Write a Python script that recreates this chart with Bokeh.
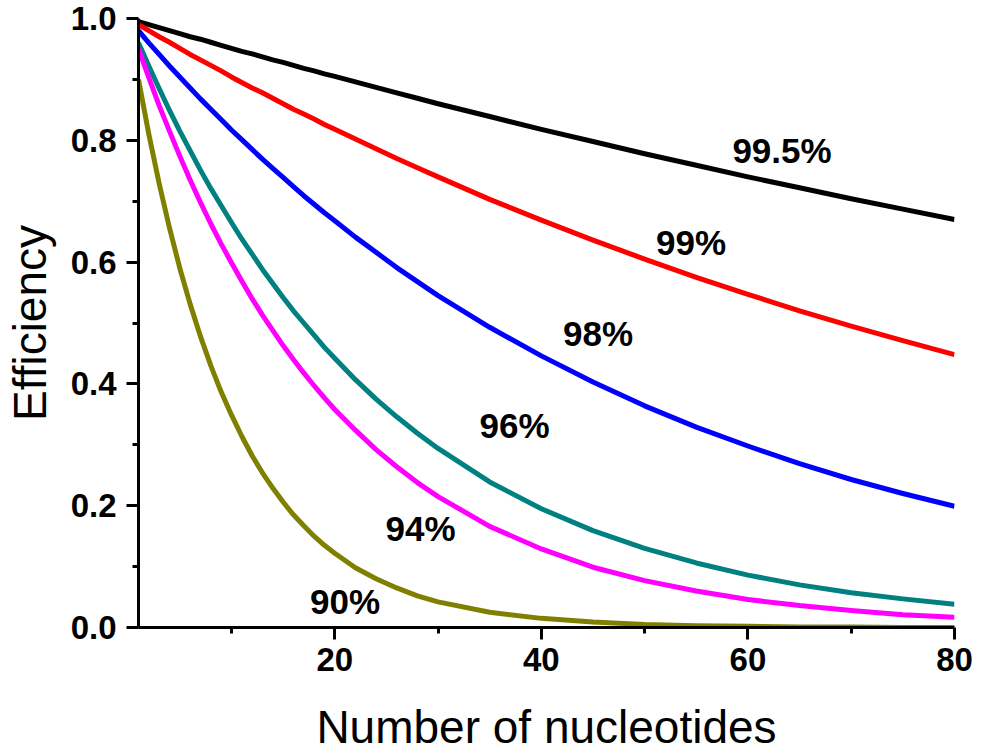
from bokeh.plotting import figure
from bokeh.models import FixedTicker, Range1d, ColumnDataSource
from bokeh.core.properties import value
from bokeh.embed import file_html
from bokeh.resources import INLINE

# ---- data ----
nucleotides = [1, 2, 3, 4, 5, 6, 7, 8, 9, 10, 11, 12, 13, 14, 15, 16, 17, 18, 19, 20,
               22, 24, 26, 28, 30, 35, 40, 45, 50, 55, 60, 65, 70, 75, 80]

eff_995 = [0.995, 0.990, 0.985, 0.980, 0.975, 0.970, 0.966, 0.961, 0.956, 0.951,
           0.946, 0.942, 0.937, 0.932, 0.928, 0.923, 0.918, 0.914, 0.909, 0.905,
           0.896, 0.887, 0.878, 0.869, 0.860, 0.839, 0.818, 0.798, 0.778, 0.759,
           0.740, 0.722, 0.704, 0.687, 0.670]
eff_99 = [0.990, 0.980, 0.970, 0.961, 0.951, 0.941, 0.932, 0.923, 0.914, 0.904,
          0.895, 0.886, 0.878, 0.869, 0.860, 0.851, 0.843, 0.835, 0.826, 0.818,
          0.802, 0.786, 0.770, 0.755, 0.740, 0.703, 0.669, 0.636, 0.605, 0.575,
          0.547, 0.520, 0.495, 0.471, 0.448]
eff_98 = [0.980, 0.960, 0.941, 0.922, 0.904, 0.886, 0.868, 0.851, 0.834, 0.817,
          0.801, 0.785, 0.769, 0.754, 0.739, 0.724, 0.709, 0.695, 0.681, 0.668,
          0.641, 0.616, 0.591, 0.568, 0.545, 0.493, 0.446, 0.403, 0.364, 0.329,
          0.298, 0.269, 0.243, 0.220, 0.199]
eff_96 = [0.960, 0.922, 0.885, 0.849, 0.815, 0.783, 0.751, 0.721, 0.693, 0.665,
          0.638, 0.613, 0.588, 0.565, 0.542, 0.520, 0.500, 0.480, 0.460, 0.442,
          0.407, 0.375, 0.346, 0.319, 0.294, 0.239, 0.195, 0.159, 0.130, 0.106,
          0.086, 0.070, 0.057, 0.047, 0.038]
eff_94 = [0.950, 0.903, 0.857, 0.815, 0.774, 0.735, 0.698, 0.663, 0.630, 0.599,
          0.569, 0.540, 0.513, 0.488, 0.463, 0.440, 0.418, 0.397, 0.377, 0.358,
          0.324, 0.292, 0.264, 0.238, 0.215, 0.166, 0.129, 0.099, 0.077, 0.060,
          0.046, 0.036, 0.028, 0.021, 0.017]
eff_90 = [0.900, 0.810, 0.729, 0.656, 0.590, 0.531, 0.478, 0.430, 0.387, 0.349,
          0.314, 0.282, 0.254, 0.229, 0.206, 0.185, 0.167, 0.150, 0.135, 0.122,
          0.098, 0.080, 0.065, 0.052, 0.042, 0.025, 0.015, 0.009, 0.005, 0.003,
          0.002, 0.001, 0.001, 0.000, 0.000]

series_labels = ["99.5%", "99%", "98%", "96%", "94%", "90%"]
label_x = [63.3, 54.5, 45.5, 37.4, 28.3, 21.0]
label_y = [0.783, 0.632, 0.483, 0.332, 0.163, 0.043]

x_ticks = [20, 40, 60, 80]
x_minor = [10, 30, 50, 70]
y_ticks = [0.0, 0.2, 0.4, 0.6, 0.8, 1.0]
y_minor = [0.1, 0.3, 0.5, 0.7, 0.9]
y_tick_labels = ["0.0", "0.2", "0.4", "0.6", "0.8", "1.0"]

colors = ["#000000", "#FF0000", "#0000FF", "#008080", "#FF00FF", "#808000"]
all_series = [eff_995, eff_99, eff_98, eff_96, eff_94, eff_90]

FONT = "Liberation Sans"

p = figure(width=981, height=755, output_backend="svg", toolbar_location=None,
           x_range=Range1d(1, 80), y_range=Range1d(0, 1.0),
           min_border_left=135, min_border_right=27, min_border_top=18,
           min_border_bottom=128)
p.outline_line_color = None
p.xgrid.visible = False
p.ygrid.visible = False
p.background_fill_color = "white"
p.border_fill_color = "white"

for ys, c in zip(all_series, colors):
    p.line(nucleotides, ys, line_color=c, line_width=5, line_join="round")

src = ColumnDataSource(dict(x=label_x, y=label_y, t=series_labels))
p.text(x="x", y="y", text="t", source=src, text_font=value(FONT),
       text_font_style="bold", text_font_size="35px", text_align="center",
       text_baseline="middle", text_color="black")

for ax in (p.xaxis[0], p.yaxis[0]):
    ax.axis_line_width = 3
    ax.axis_line_color = "black"
    ax.major_tick_line_width = 3
    ax.minor_tick_line_width = 3
    ax.major_tick_out = 12
    ax.major_tick_in = 0
    ax.minor_tick_out = 6
    ax.minor_tick_in = 0
    ax.major_label_text_font = FONT
    ax.major_label_text_font_style = "bold"
    ax.major_label_text_font_size = "33px"
    ax.major_label_text_color = "black"
    ax.axis_label_text_font = FONT
    ax.axis_label_text_font_style = "normal"
    ax.axis_label_text_font_size = "46px"
    ax.axis_label_text_color = "black"

p.xaxis.ticker = FixedTicker(ticks=x_ticks, minor_ticks=x_minor)
p.yaxis.ticker = FixedTicker(ticks=y_ticks, minor_ticks=y_minor)
p.yaxis.major_label_overrides = {t: s for t, s in zip(y_ticks, y_tick_labels)}
p.xaxis.axis_label = "Number of nucleotides"
p.yaxis.axis_label = "Efficiency"
p.xaxis.major_label_standoff = 8
p.yaxis.major_label_standoff = 10
p.xaxis.axis_label_standoff = 27
p.yaxis.axis_label_standoff = 12

open("out.html", "w").write(file_html(p, INLINE))
